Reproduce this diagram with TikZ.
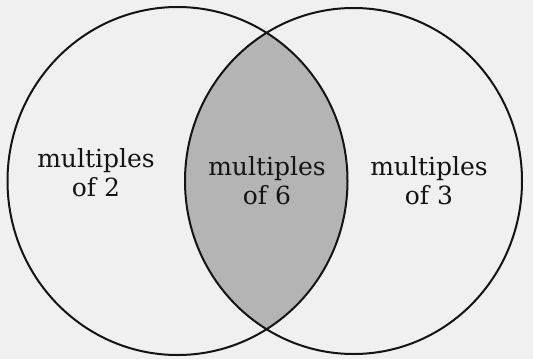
\documentclass[tikz,border=0pt]{standalone}
\usepackage{fontspec}
\setmainfont{DejaVu Serif}
\definecolor{paper}{HTML}{F0F0F0}
\definecolor{lens}{HTML}{B4B4B4}
\definecolor{ink}{HTML}{141414}
\begin{document}
\begin{tikzpicture}[x=1pt,y=-1pt,
  setline/.style={draw=ink,line width=2pt},
  lbl/.style={font=\fontsize{25}{29}\selectfont,text=ink,align=center,inner sep=0pt}]
\fill[paper] (0,0) rectangle (533,359);
\useasboundingbox (0,0) rectangle (533,359);
\coordinate (cA) at (177.5,181);
\coordinate (cB) at (353.5,181);
\begin{scope}
  \clip (cA) ellipse [x radius=170, y radius=174];
  \fill[lens] (cB) ellipse [x radius=168.5, y radius=173];
\end{scope}
\draw[setline] (cA) ellipse [x radius=170, y radius=174];
\draw[setline] (cB) ellipse [x radius=168.5, y radius=173];
\node[lbl] (t2) at (96,173) {multiples\\of 2};
\node[lbl] (t6) at (267,181) {multiples\\of 6};
\node[lbl] (t3) at (429,181) {multiples\\of 3};
\end{tikzpicture}
\end{document}
